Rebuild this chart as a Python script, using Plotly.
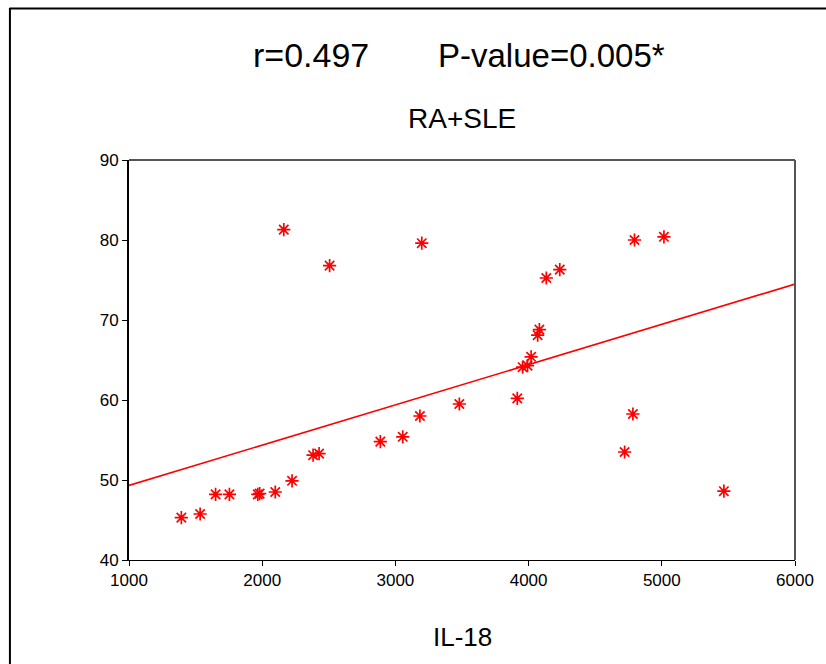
import numpy as np
import plotly.graph_objects as go

# IL-18 (x) vs score (y)
il18 = [1393, 1534, 1650, 1754, 1967, 1981, 2098, 2224, 2382, 2427,
        2887, 3055, 3184, 3480, 2162, 2506, 3198,
        3915, 3955, 3992, 4019, 4068, 4081, 4133, 4234, 4795, 5016,
        4783, 4721, 5466]
score = [45.3, 45.75, 48.2, 48.2, 48.2, 48.3, 48.5, 49.9, 53.1, 53.3,
         54.8, 55.4, 58.0, 59.5, 81.3, 76.8, 79.6,
         60.2, 64.1, 64.3, 65.4, 68.1, 68.8, 75.25, 76.3, 80.0, 80.4,
         58.25, 53.5, 48.6]

x_ticks = [1000, 2000, 3000, 4000, 5000, 6000]
y_ticks = [40, 50, 60, 70, 80, 90]
fit_x = [1000, 6000]

title_r = "r=0.497"
title_p = "P-value=0.005*"
subtitle = "RA+SLE"
x_label = "IL-18"

slope, intercept = np.polyfit(il18, score, 1)
fit_y = [slope * v + intercept for v in fit_x]

FONT = "Liberation Sans, Arial, sans-serif"

fig = go.Figure()
fig.add_trace(go.Scatter(
    x=fit_x, y=fit_y, mode="lines",
    line=dict(color="#ff0000", width=1.6), hoverinfo="skip", showlegend=False))
fig.add_trace(go.Scatter(
    x=il18, y=score, mode="markers",
    marker=dict(symbol="asterisk-open", size=11, color="#ff0000",
                line=dict(color="#ff0000", width=1.7)),
    showlegend=False))

W, H = 826, 664
L, R, T, B = 129, 803, 160, 560
pw, ph = R - L, B - T

def px(xp):
    return (xp - L) / pw

def py(yp):
    return (B - yp) / ph

fig.update_layout(
    width=W, height=H,
    margin=dict(l=L, r=W - R, t=T, b=H - B, pad=0),
    paper_bgcolor="white", plot_bgcolor="white",
    font=dict(family=FONT, color="black", size=17),
    xaxis=dict(range=[1000, 6000], tickvals=x_ticks, ticks="outside",
               ticklen=5, tickcolor="black", showgrid=False, zeroline=False,
               showline=True, linecolor="black", linewidth=1,
               tickfont=dict(size=17, family=FONT)),
    yaxis=dict(range=[40, 90], tickvals=y_ticks, ticks="outside",
               ticklen=5, tickcolor="black", showgrid=False, zeroline=False,
               showline=True, linecolor="black", linewidth=2,
               tickfont=dict(size=17, family=FONT)),
    shapes=[
        # plot frame top & right
        dict(type="line", xref="paper", yref="paper", x0=0, x1=1, y0=1, y1=1,
             line=dict(color="#555555", width=2)),
        dict(type="line", xref="paper", yref="paper", x0=1, x1=1, y0=0, y1=1,
             line=dict(color="#555555", width=2)),
        # outer border left & top
        dict(type="line", xref="paper", yref="paper", x0=px(8.5), x1=px(8.5),
             y0=py(8), y1=py(700), line=dict(color="black", width=2)),
        dict(type="line", xref="paper", yref="paper", x0=px(8), x1=px(860),
             y0=py(8.5), y1=py(8.5), line=dict(color="black", width=2)),
    ],
    annotations=[
        dict(text=title_r, xref="paper", yref="paper", x=px(313), y=py(55),
             showarrow=False, font=dict(size=34, family=FONT),
             xanchor="center", yanchor="middle"),
        dict(text=title_p, xref="paper", yref="paper", x=px(557), y=py(55),
             showarrow=False, font=dict(size=33, family=FONT),
             xanchor="center", yanchor="middle"),
        dict(text=subtitle, xref="paper", yref="paper", x=px(466), y=py(118),
             showarrow=False, font=dict(size=28, family=FONT),
             xanchor="center", yanchor="middle"),
        dict(text=x_label, xref="paper", yref="paper", x=px(466), y=py(637),
             showarrow=False, font=dict(size=26, family=FONT),
             xanchor="center", yanchor="middle"),
    ],
)

fig.write_html(
    "out.html",
    config={"displayModeBar": False},
    post_script="document.body.style.margin='0';document.body.style.overflow='hidden';",
)
